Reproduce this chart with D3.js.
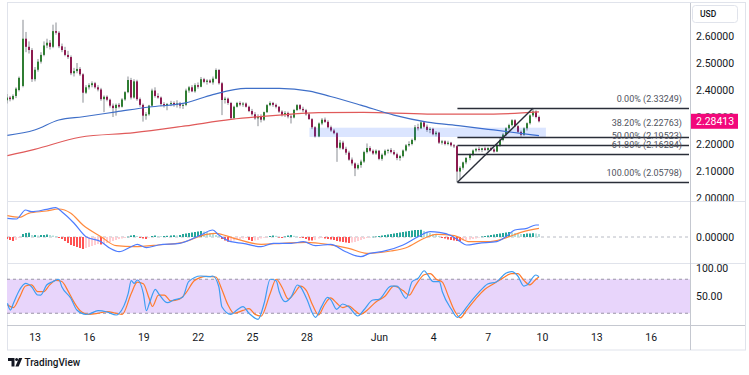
<!DOCTYPE html>
<html><head><meta charset="utf-8">
<script src="https://cdn.jsdelivr.net/npm/d3@7"></script>
<style>
body{margin:0;background:#fff}
svg{display:block}
text{font-family:Roboto,"Liberation Sans",Arial,sans-serif}
</style>
</head><body>
<svg id="c" width="749" height="375"></svg>
<script>
// ---------------- DATA ----------------
const START = Date.UTC(2025, 4, 11, 12);   // first 4H candle
const STEP = 4 * 3600 * 1000;

// [open, high, low, close]
const candles = [
[2.362,2.385,2.350,2.372],[2.372,2.378,2.358,2.366],[2.366,2.384,2.362,2.378],[2.378,2.410,2.370,2.405],
[2.400,2.450,2.395,2.445],[2.415,2.660,2.410,2.590],[2.590,2.615,2.540,2.560],[2.560,2.580,2.535,2.548],
[2.548,2.555,2.430,2.440],[2.440,2.485,2.432,2.475],[2.475,2.515,2.468,2.505],[2.505,2.540,2.498,2.530],
[2.530,2.580,2.525,2.565],[2.565,2.590,2.555,2.575],[2.575,2.585,2.550,2.560],[2.560,2.642,2.555,2.618],
[2.618,2.650,2.605,2.612],[2.612,2.618,2.555,2.562],[2.562,2.572,2.540,2.548],[2.548,2.560,2.525,2.530],
[2.530,2.545,2.515,2.522],[2.522,2.528,2.455,2.462],[2.462,2.482,2.450,2.470],[2.470,2.500,2.462,2.478],
[2.478,2.485,2.452,2.458],[2.458,2.462,2.353,2.390],[2.390,2.418,2.385,2.410],[2.410,2.425,2.402,2.418],
[2.418,2.432,2.410,2.425],[2.425,2.430,2.405,2.410],[2.410,2.418,2.395,2.402],[2.402,2.408,2.360,2.366],
[2.366,2.380,2.318,2.375],[2.375,2.380,2.358,2.364],[2.364,2.368,2.335,2.342],[2.342,2.350,2.300,2.333],
[2.333,2.350,2.305,2.345],[2.345,2.352,2.332,2.338],[2.338,2.370,2.335,2.365],[2.365,2.396,2.360,2.392],
[2.392,2.450,2.388,2.437],[2.437,2.445,2.365,2.372],[2.372,2.440,2.368,2.432],[2.432,2.438,2.360,2.366],
[2.366,2.372,2.338,2.345],[2.345,2.350,2.283,2.305],[2.305,2.318,2.290,2.310],[2.310,2.345,2.305,2.342],
[2.342,2.405,2.338,2.398],[2.398,2.410,2.372,2.378],[2.378,2.388,2.368,2.372],[2.372,2.376,2.340,2.348],
[2.348,2.355,2.335,2.342],[2.342,2.352,2.325,2.348],[2.348,2.360,2.340,2.352],[2.352,2.358,2.338,2.345],
[2.345,2.362,2.335,2.350],[2.350,2.356,2.332,2.342],[2.342,2.352,2.330,2.345],[2.345,2.405,2.340,2.398],
[2.398,2.415,2.390,2.410],[2.410,2.418,2.392,2.395],[2.395,2.425,2.390,2.418],[2.418,2.428,2.405,2.412],
[2.412,2.448,2.410,2.440],[2.440,2.445,2.425,2.430],[2.430,2.440,2.420,2.435],[2.435,2.440,2.425,2.428],
[2.428,2.450,2.420,2.442],[2.442,2.480,2.440,2.474],[2.474,2.478,2.420,2.425],[2.425,2.430,2.307,2.363],
[2.363,2.375,2.350,2.368],[2.368,2.372,2.345,2.352],[2.352,2.356,2.290,2.296],[2.296,2.342,2.292,2.338],
[2.338,2.356,2.335,2.352],[2.352,2.358,2.340,2.346],[2.346,2.355,2.338,2.350],[2.350,2.354,2.335,2.338],
[2.338,2.342,2.318,2.322],[2.322,2.330,2.305,2.310],[2.310,2.318,2.290,2.295],[2.295,2.310,2.266,2.300],
[2.300,2.310,2.280,2.290],[2.290,2.320,2.285,2.318],[2.318,2.348,2.315,2.344],[2.344,2.358,2.340,2.352],
[2.352,2.356,2.338,2.345],[2.345,2.350,2.332,2.338],[2.338,2.340,2.315,2.320],[2.320,2.325,2.302,2.308],
[2.308,2.322,2.300,2.315],[2.315,2.320,2.295,2.302],[2.302,2.310,2.276,2.298],[2.298,2.330,2.295,2.326],
[2.326,2.348,2.322,2.344],[2.344,2.348,2.325,2.330],[2.330,2.338,2.318,2.325],[2.325,2.330,2.305,2.310],
[2.310,2.315,2.290,2.292],[2.292,2.296,2.255,2.262],[2.262,2.266,2.224,2.228],[2.228,2.280,2.225,2.276],
[2.276,2.296,2.270,2.290],[2.290,2.298,2.278,2.282],[2.282,2.288,2.258,2.262],[2.262,2.268,2.245,2.250],
[2.250,2.256,2.236,2.240],[2.240,2.244,2.134,2.186],[2.186,2.215,2.180,2.205],[2.205,2.212,2.178,2.182],
[2.182,2.190,2.160,2.168],[2.168,2.175,2.138,2.142],[2.142,2.150,2.120,2.128],[2.128,2.132,2.081,2.110],
[2.110,2.128,2.105,2.122],[2.122,2.142,2.112,2.135],[2.135,2.175,2.130,2.170],[2.170,2.202,2.165,2.185],
[2.185,2.192,2.170,2.175],[2.175,2.180,2.160,2.165],[2.165,2.180,2.160,2.175],[2.175,2.178,2.140,2.145],
[2.145,2.165,2.138,2.160],[2.160,2.180,2.155,2.175],[2.175,2.182,2.165,2.178],[2.178,2.185,2.165,2.170],
[2.170,2.178,2.158,2.162],[2.162,2.168,2.140,2.148],[2.148,2.160,2.138,2.155],[2.155,2.180,2.150,2.176],
[2.176,2.200,2.172,2.195],[2.195,2.210,2.190,2.200],[2.200,2.220,2.195,2.215],[2.215,2.270,2.210,2.262],
[2.262,2.275,2.250,2.258],[2.258,2.285,2.255,2.280],[2.280,2.284,2.258,2.264],[2.264,2.272,2.245,2.252],
[2.252,2.262,2.240,2.256],[2.256,2.260,2.232,2.236],[2.236,2.248,2.228,2.242],[2.242,2.245,2.200,2.205],
[2.205,2.215,2.198,2.210],[2.210,2.214,2.195,2.200],[2.200,2.212,2.195,2.205],[2.205,2.208,2.190,2.195],
[2.195,2.200,2.185,2.192],[2.192,2.196,2.058,2.098],[2.098,2.118,2.070,2.112],[2.112,2.135,2.105,2.132],
[2.132,2.152,2.125,2.148],[2.148,2.165,2.140,2.160],[2.160,2.180,2.155,2.176],[2.176,2.186,2.170,2.182],
[2.182,2.190,2.172,2.178],[2.178,2.186,2.170,2.184],[2.184,2.190,2.174,2.178],[2.178,2.188,2.172,2.185],
[2.185,2.190,2.175,2.180],[2.180,2.186,2.168,2.172],[2.172,2.200,2.170,2.196],[2.196,2.222,2.190,2.215],
[2.215,2.240,2.210,2.235],[2.235,2.262,2.230,2.258],[2.258,2.275,2.250,2.270],[2.270,2.292,2.265,2.288],
[2.288,2.292,2.262,2.266],[2.266,2.270,2.240,2.245],[2.245,2.250,2.227,2.234],[2.234,2.262,2.230,2.258],
[2.258,2.280,2.250,2.277],[2.277,2.310,2.272,2.306],[2.306,2.3325,2.300,2.320],[2.320,2.325,2.295,2.300],
[2.300,2.305,2.280,2.28413]
];

// moving averages: [candle index, value]
const maBlue = [[0,2.232],[9,2.252],[17,2.289],[25,2.301],[36,2.319],[47,2.337],[59,2.352],[68,2.383],
  [79,2.406],[90,2.406],[100,2.396],[107,2.376],[117,2.344],[128,2.307],[139,2.281],[150,2.267],[161,2.252],[176,2.231]];
const maRed = [[0,2.157],[9,2.180],[24,2.225],[42,2.242],[59,2.267],[74,2.291],[90,2.307],[103,2.316],
  [118,2.317],[139,2.311],[161,2.311],[176,2.319]];

// MACD
const macdLine = [[0,0.0187],[3,0.018],[6,0.027],[8,0.0253],[13,0.0277],[16,0.0293],[18,0.0253],[22,0.014],
  [26,0.0003],[31,-0.0047],[34,-0.0113],[37,-0.0147],[41,-0.0097],[43,-0.0073],[46,-0.0107],[50,-0.008],
  [57,-0.0063],[64,0.002],[68,0.007],[70,0.002],[74,-0.0047],[78,-0.0063],[84,-0.0097],[88,-0.0063],
  [94,-0.0063],[98,-0.0047],[102,-0.0087],[107,-0.0073],[112,-0.0147],[117,-0.0197],[120,-0.0163],
  [124,-0.0147],[131,-0.008],[136,0.0003],[140,0.0053],[143,0.0047],[147,0.0013],[150,-0.0047],
  [152,-0.008],[156,-0.0063],[162,-0.0047],[165,0.0003],[168,0.007],[172,0.0087],[175,0.012],[176,0.012]];
const signalLine = [[0,0.0213],[4,0.0197],[7,0.0237],[13,0.026],[17,0.028],[21,0.0237],[25,0.012],[31,0.0003],
  [36,-0.0087],[42,-0.0097],[50,-0.008],[58,-0.0053],[66,0.0027],[69,0.0037],[75,-0.0013],[84,-0.0073],
  [91,-0.0063],[99,-0.0053],[106,-0.0073],[113,-0.0113],[119,-0.0163],[127,-0.014],[132,-0.0107],
  [138,-0.0013],[142,0.0027],[148,0.0013],[153,-0.0047],[159,-0.0047],[164,-0.002],[170,0.0047],[176,0.0087]];
// histogram, in thousandths, one per candle
const macdHistMilli = [
 -2,-3,-4,-3,-1, 3,4,4.3, 2,2,1.5,2,2,2.5,2,1.5, 1,
 -1,-2,-4,-6,-8,-9,-10,-11,-12,-11, -10,-9,-8,-7,-7.5, -7,-6,-5,
 -4,-3,-2,-1.5,-1,0.3, 1.5,2,1, -1,-1.5,-2, -0.5,1,1.5,1,
 0.8,1,1.2,1.5,1.8,1.5,2, 3,3.5,4,4.5,5,5.5,6, 5.5,5,4,3, 2,1,
 -2,-3.5,-4.7,-4.5,-3.5, -2.5,-2,-1.5,-1, -3,-4,-3.5,-3, -1.5,-0.8,-0.3,
 1,1.5,1.2,-0.5,-1,0.5,1.5,2,1.2, 0.5,-0.5,-1,-2, -3.5,-3.5,-3, -1.5,-1,-1.5,-2,
 -2.5,-3,-4,-4.5,-5,-5.5,-6,-5.5,-5, -4,-3,-2,-1,-0.5, 0.3,0.5,1,1.5,
 2,2.5,3,3.5,4,4.5,5,5.5,6,6.5,7,7,7.2, 6,5,4,3,2,1,
 -1,-1.5,-2.5,-3,-3.5,-4,-4, -3.5,-3,-2.5,-2,-1.5,-0.5,
 0.5,1,1.5,2,2.5,3,3.5,4, 4.5,5,4.7,4, 3.5,3,3,3.5,3.5,3.8,3.5,3
];

// Stochastic RSI
const stochK = [[0,37.6],[1,25.7],[2,37.6],[4,61],[6,72.8],[8,66.8],[10,52.2],[11,52],[13,69.8],[15,75.7],
  [17,80],[18,66.8],[21,46.4],[23,25.7],[26,18.2],[27,18.7],[30,24.5],[33,22.2],[36,16.9],[37,19.9],
  [40,55.2],[41,77.4],[42,72.8],[43,78.7],[45,55.2],[46,24.5],[47,37.6],[49,62.3],[50,55.2],[53,38.6],
  [55,43.4],[58,48.1],[60,75.7],[64,85.7],[67,84.5],[68,85.7],[70,66.8],[71,31.6],[74,18.2],[76,25.7],
  [78,31.6],[80,19.9],[83,9.3],[85,37.6],[87,80],[89,77.4],[90,58],[92,40.4],[94,49.2],[96,69.8],
  [97,66.8],[99,46.4],[102,12.9],[104,31.6],[106,48.1],[107,44.6],[109,27],[111,36.3],[113,31.6],
  [116,15.2],[118,25.7],[121,43.4],[123,44.6],[127,68],[129,68],[132,46.4],[134,75.7],[136,81.7],
  [138,95],[139,89.2],[141,75.7],[143,75.7],[144,58],[147,27],[149,12.9],[150,16.9],[153,37.6],
  [156,56.3],[159,71.6],[162,75.7],[165,90.5],[167,93.3],[169,85.7],[171,68],[172,69.8],[175,87.5],[176,84.5]];
const stochD = [[0,35],[2,30],[4,48],[6,68],[8,70],[10,58],[12,58],[14,70],[16,78],[18,76],[20,60],[22,40],
  [24,25],[27,18],[30,20],[33,23],[36,20],[38,18],[41,55],[43,75],[45,72],[47,45],[48,32],[50,52],[52,52],
  [54,42],[57,45],[59,55],[62,78],[66,85],[69,84],[71,62],[73,35],[75,20],[78,25],[80,28],[82,18],[84,15],
  [87,55],[89,80],[91,65],[93,45],[95,55],[97,68],[99,60],[101,35],[103,17],[105,35],[107,47],[109,38],
  [111,30],[113,33],[115,25],[117,18],[119,25],[122,40],[125,50],[128,68],[131,60],[133,52],[135,68],
  [138,88],[140,90],[142,80],[144,75],[146,50],[148,25],[150,12],[152,25],[155,45],[158,62],[161,72],
  [164,82],[167,90],[169,90],[171,78],[173,70],[175,80],[176,84]];

// Fibonacci retracement drawn from swing low to swing high
const fibStartIndex = 149, fibEndIndex = 174;
const fibLevels = [0, 0.382, 0.5, 0.618, 1];
const fibPrices = [2.33249, 2.22763, 2.19523, 2.16284, 2.05798];
// highlighted zone
const zone = {from: 100, to: 178.3, low: 2.226, high: 2.2604};

const priceTicks = [2.0, 2.1, 2.2, 2.3, 2.4, 2.5, 2.6];
const lastPrice = 2.28413;
const macdTicks = [0];
const stochTicks = [100, 50];
const stochBands = [80, 20];
const dateTicks = [[2025,4,13],[2025,4,16],[2025,4,19],[2025,4,22],[2025,4,25],[2025,4,28],
                   [2025,5,1],[2025,5,4],[2025,5,7],[2025,5,10],[2025,5,13],[2025,5,16]];
const dateLabels = ["13","16","19","22","25","28","Jun","4","7","10","13","16"];

// ---------------- LAYOUT ----------------
const L = 7, R = 690, FR = 745;
const main = {top: 3, bottom: 201};
const mac = {top: 201, bottom: 263};
const sto = {top: 263, bottom: 325};
const axisBottom = 350;

const svg = d3.select("#c");
const tOf = i => new Date(START + i * STEP);
const x = d3.scaleUtc()
  .domain([new Date(Date.UTC(2025,4,13)), new Date(Date.UTC(2025,5,10))])
  .range([34.6, 542]);
const yP = d3.scaleLinear().domain([2.0, 2.6]).range([198, 36]);
const yM = d3.scaleLinear().domain([0, 0.01]).range([237, 227]);
const yS = d3.scaleLinear().domain([0, 100]).range([324.6, 267.9]);

const defs = svg.append("defs");
function clip(id, y0, y1, x0 = L, x1 = R) {
  defs.append("clipPath").attr("id", id).append("rect")
    .attr("x", x0).attr("y", y0).attr("width", x1 - x0).attr("height", y1 - y0);
  return `url(#${id})`;
}
const cMain = clip("cm", main.top, main.bottom);
const cMac = clip("cmac", mac.top, mac.bottom);
const cSto = clip("csto", sto.top, sto.bottom);
const cMainAxis = clip("cma", main.top, main.bottom, R, FR);
const labelTop = yP(lastPrice) - 7.5;

// frame & separators
const frame = svg.append("g").attr("fill", "none");
frame.append("rect").attr("x", L + 0.5).attr("y", 2.5).attr("width", FR - L).attr("height", axisBottom - 2.5)
  .attr("stroke", "#e0e3eb");
[main.bottom, mac.bottom].forEach(y => frame.append("line").attr("x1", L).attr("x2", FR)
  .attr("y1", y + 0.5).attr("y2", y + 0.5).attr("stroke", "#e0e3eb"));
frame.append("line").attr("x1", L).attr("x2", FR).attr("y1", sto.bottom + 0.5).attr("y2", sto.bottom + 0.5)
  .attr("stroke", "#c5c8d0");
frame.append("line").attr("x1", R + 0.5).attr("x2", R + 0.5).attr("y1", 3).attr("y2", axisBottom)
  .attr("stroke", "#c5c8d0");

// ---------------- STOCH PANE ----------------
const gS = svg.append("g").attr("clip-path", cSto);
gS.append("rect").attr("x", L).attr("width", R - L)
  .attr("y", yS(stochBands[0])).attr("height", yS(stochBands[1]) - yS(stochBands[0]))
  .attr("fill", "#e8d5fb");
stochBands.forEach(b => gS.append("line").attr("x1", L).attr("x2", R)
  .attr("y1", yS(b)).attr("y2", yS(b)).attr("stroke", "#9a94a6").attr("stroke-dasharray", "3,3"));
const lineS = d3.line().x(d => x(tOf(d[0]))).y(d => yS(d[1])).curve(d3.curveMonotoneX);
gS.append("path").attr("d", lineS(stochD)).attr("fill", "none").attr("stroke", "#ff7b2c").attr("stroke-width", 1.2);
gS.append("path").attr("d", lineS(stochK)).attr("fill", "none").attr("stroke", "#3d9df2").attr("stroke-width", 1.2);

// ---------------- MACD PANE ----------------
const gM = svg.append("g").attr("clip-path", cMac);
gM.append("line").attr("x1", L).attr("x2", R).attr("y1", yM(0)).attr("y2", yM(0))
  .attr("stroke", "#b8bbc4").attr("stroke-dasharray", "3,3");
const hist = macdHistMilli.map(v => v / 1000);
gM.selectAll("rect.h").data(hist).join("rect")
  .attr("x", (d, i) => Math.round(x(tOf(i))) - 1)
  .attr("width", 2)
  .attr("y", d => Math.min(yM(d), yM(0)))
  .attr("height", d => Math.max(0.6, Math.abs(yM(d) - yM(0))))
  .attr("fill", (d, i) => {
    const p = i > 0 ? hist[i - 1] : d;
    if (d >= 0) return d >= p ? "#26a69a" : "#b2dfdb";
    return d <= p ? "#ff5252" : "#ffcdd2";
  });
const lineM = d3.line().x(d => x(tOf(d[0]))).y(d => yM(d[1])).curve(d3.curveMonotoneX);
gM.append("path").attr("d", lineM(signalLine)).attr("fill", "none").attr("stroke", "#ff8a3d").attr("stroke-width", 1.2);
gM.append("path").attr("d", lineM(macdLine)).attr("fill", "none").attr("stroke", "#4d7cfe").attr("stroke-width", 1.2);

// ---------------- MAIN PANE ----------------
const gP = svg.append("g").attr("clip-path", cMain);
const cg = gP.append("g");
candles.forEach((c, i) => {
  const [o, h, l, cl] = c;
  const cx = Math.round(x(tOf(i)));
  cg.append("rect").attr("x", cx - 0.5).attr("width", 1)
    .attr("y", yP(h)).attr("height", yP(l) - yP(h)).attr("fill", "#8a8d94");
  const top = yP(Math.max(o, cl)), bot = yP(Math.min(o, cl));
  cg.append("rect").attr("x", cx - 1).attr("width", 2)
    .attr("y", top).attr("height", Math.max(1, bot - top))
    .attr("fill", cl >= o ? "#2f7d32" : "#8c1a4f");
});
const lineP = d3.line().x(d => x(tOf(d[0]))).y(d => yP(d[1])).curve(d3.curveMonotoneX);
gP.append("path").attr("d", lineP(maRed)).attr("fill", "none").attr("stroke", "#e05a5a").attr("stroke-width", 1.2);
gP.append("path").attr("d", lineP(maBlue)).attr("fill", "none").attr("stroke", "#3f6fc8").attr("stroke-width", 1.2);

// zone
gP.append("rect").attr("x", x(tOf(zone.from))).attr("width", x(tOf(zone.to)) - x(tOf(zone.from)))
  .attr("y", yP(zone.high)).attr("height", yP(zone.low) - yP(zone.high))
  .attr("fill", "rgba(41,98,255,0.17)");

// fib
const fx0 = x(tOf(fibStartIndex));
fibLevels.forEach((lv, k) => {
  const y = Math.round(yP(fibPrices[k])) + 0.5;
  gP.append("line").attr("x1", fx0).attr("x2", R - 1).attr("y1", y).attr("y2", y)
    .attr("stroke", "#2a2e39").attr("stroke-width", 1.3);
  const dy = lv === 0.382 ? -14.5 : -9.5;
  gP.append("text").attr("x", 682).attr("y", y + dy).attr("dy", "0.35em")
    .attr("text-anchor", "end").attr("font-size", 9).attr("fill", "#50535e")
    .text(`${(lv * 100).toFixed(2)}% (${fibPrices[k].toFixed(5)})`);
});
gP.append("line")
  .attr("x1", fx0).attr("y1", yP(fibPrices[fibPrices.length - 1]))
  .attr("x2", x(tOf(fibEndIndex))).attr("y2", yP(fibPrices[0]))
  .attr("stroke", "#2a2e39").attr("stroke-width", 1.4);

// ---------------- AXES ----------------
const ga = svg.append("g").attr("font-size", 10.5).attr("fill", "#131722");
const gpa = ga.append("g").attr("clip-path", cMainAxis);
priceTicks.forEach(p => {
  const t = gpa.append("text").attr("x", 696).attr("y", yP(p)).attr("dy", "0.35em").text(p.toFixed(5));
  // a tick hidden behind the last-price tag only shows its top sliver, as in the source
  if (Math.abs(yP(p) - yP(lastPrice)) < 12) {
    t.attr("clip-path", clip("ctag", main.top, labelTop, R, FR));
  }
});
// last price label
gpa.append("rect").attr("x", 691).attr("y", labelTop).attr("width", 47).attr("height", 15)
  .attr("fill", "#f2087b");
gpa.append("text").attr("x", 696).attr("y", yP(lastPrice)).attr("dy", "0.35em")
  .attr("fill", "#fff").text(lastPrice.toFixed(5));
// currency box
ga.append("rect").attr("x", 692.5).attr("y", 5.5).attr("width", 45).attr("height", 17).attr("rx", 3)
  .attr("fill", "#fff").attr("stroke", "#e0e3eb");
ga.append("text").attr("x", 700).attr("y", 14).attr("dy", "0.35em").attr("font-size", 8.5)
  .attr("font-weight", 500).text("USD");
macdTicks.forEach(v => ga.append("text").attr("x", 696).attr("y", yM(v)).attr("dy", "0.35em").text(v.toFixed(5)));
stochTicks.forEach(v => ga.append("text").attr("x", 696).attr("y", yS(v)).attr("dy", "0.35em").text(v.toFixed(2)));

// time axis
const tickDates = dateTicks.map(d => new Date(Date.UTC(d[0], d[1], d[2])));
const xAxis = d3.axisBottom(x).tickValues(tickDates).tickSize(0).tickPadding(0)
  .tickFormat((d, i) => dateLabels[i]);
const gx = svg.append("g").attr("transform", `translate(0,${337})`).call(xAxis);
gx.select(".domain").remove();
gx.selectAll("text").attr("font-size", 10.5).attr("fill", "#131722")
  .attr("font-family", "Roboto, 'Liberation Sans', Arial, sans-serif").attr("dy", "0.35em").attr("y", 0);

// TradingView mark
const lg = svg.append("g").attr("fill", "#131722");
lg.append("path").attr("d", "M8,358 h6.5 v8.5 h-3 v-5.5 h-3.5 z");
lg.append("circle").attr("cx", 16.6).attr("cy", 359.6).attr("r", 1.5);
lg.append("path").attr("d", "M19,358 h3.3 l-3.6,8.5 h-3.3 z");
lg.append("text").attr("x", 24.5).attr("y", 362.5).attr("dy", "0.35em").attr("font-size", 10)
  .attr("font-weight", 500).text("TradingView");
</script>
</body></html>
